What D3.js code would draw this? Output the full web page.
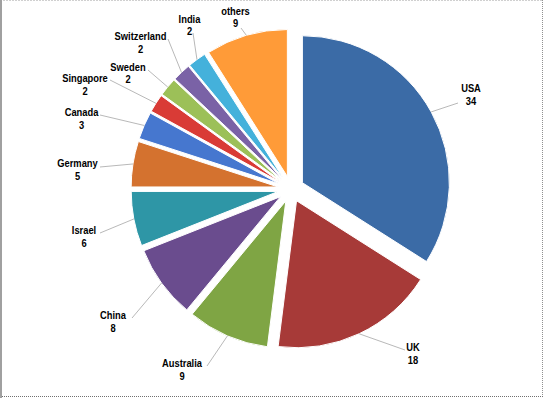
<!DOCTYPE html>
<html>
<head>
<meta charset="utf-8">
<script src="https://cdn.jsdelivr.net/npm/d3@7"></script>
<style>
    body { margin: 0; background: #fff; }
    svg { display: block; }
    .label { font-family: "Liberation Sans", Arial, sans-serif; font-weight: bold; font-size: 11px; fill: #000; }
</style>
</head>
<body>
<svg id="drawing_region"></svg>
<script>
// data
const countries = ["USA", "UK", "Australia", "China", "Israel", "Germany", "Canada",
                   "Singapore", "Sweden", "Switzerland", "India", "others"];
const values = [34, 18, 9, 8, 6, 5, 3, 2, 2, 2, 2, 9];
const colors = ["#3b6ba6", "#a73a38", "#7fa544", "#6a4c8e", "#2e96a6", "#d4722f", "#4677cf",
                "#d93b36", "#9cc058", "#7a62a6", "#44b1db", "#ff9b38"];

// label layout: text centre x, first line centre y, leader end x, y
const labelLayout = [
    [471, 88, 458, 103],
    [413, 347, 405, 350],
    [182, 363, 207, 366],
    [113, 315, 132, 318],
    [84, 230, 100, 233],
    [77.5, 163, 100, 167],
    [81.5, 112, 100, 115],
    [85, 78, 110, 80],
    [128, 66.5, 148, 70],
    [140.5, 36, 168, 39],
    [189.5, 18.5, 193, 33],
    [235.5, 10.5, 241, 28]
];

const config = {
    width: 544,
    height: 398,
    cx: 291,
    cy: 189,
    radius: 147,
    explode: 13,
    textSquash: 0.85
};

const data = countries.map((c, i) => ({ name: c, value: values[i], color: colors[i], layout: labelLayout[i] }));

const svg = d3.select('#drawing_region')
    .attr('width', config.width)
    .attr('height', config.height);

// frame
svg.append('line').attr('x1', 0.5).attr('y1', 0.5).attr('x2', config.width - 1).attr('y2', 0.5)
    .attr('stroke', '#a0a0a0').attr('stroke-dasharray', '1,2');
svg.append('line').attr('x1', config.width - 1.5).attr('y1', 0).attr('x2', config.width - 1.5).attr('y2', config.height - 1)
    .attr('stroke', '#909090').attr('stroke-dasharray', '1,1');
svg.append('line').attr('x1', 0).attr('y1', config.height - 1.5).attr('x2', config.width).attr('y2', config.height - 1.5)
    .attr('stroke', '#707070').attr('stroke-dasharray', '1,1');
svg.append('line').attr('x1', 1).attr('y1', 0).attr('x2', 1).attr('y2', config.height)
    .attr('stroke', '#a0a0a0').attr('stroke-width', 2);

const pie = d3.pie().value(d => d.value).sort(null);
const arc = d3.arc().innerRadius(0).outerRadius(config.radius);
const arcs = pie(data);

const chart = svg.append('g')
    .attr('transform', `translate(${config.cx}, ${config.cy})`);

const offset = d => {
    const mid = (d.startAngle + d.endAngle) / 2;
    return [config.explode * Math.sin(mid), -config.explode * Math.cos(mid)];
};

chart.selectAll('path.slice')
    .data(arcs)
    .enter()
    .append('path')
    .attr('class', 'slice')
    .attr('d', arc)
    .attr('transform', d => `translate(${offset(d)[0]}, ${offset(d)[1]})`)
    .attr('fill', d => d.data.color)
    .attr('stroke', '#fff')
    .attr('stroke-width', 1);

// leader lines from the outer edge at the slice bisector to the label
chart.selectAll('line.leader')
    .data(arcs)
    .enter()
    .append('line')
    .attr('class', 'leader')
    .attr('x1', d => {
        const mid = (d.startAngle + d.endAngle) / 2;
        return offset(d)[0] + config.radius * Math.sin(mid);
    })
    .attr('y1', d => {
        const mid = (d.startAngle + d.endAngle) / 2;
        return offset(d)[1] - config.radius * Math.cos(mid);
    })
    .attr('x2', d => d.data.layout[2] - config.cx)
    .attr('y2', d => d.data.layout[3] - config.cy)
    .attr('stroke', '#999')
    .attr('stroke-width', 0.7);

// labels, squashed horizontally to imitate the narrow original font
const labels = svg.selectAll('g.label')
    .data(data)
    .enter()
    .append('g')
    .attr('transform', d => `translate(${d.layout[0]}, ${d.layout[1] + 4}) scale(${config.textSquash}, 1)`)
    .append('text')
    .attr('class', 'label')
    .attr('text-anchor', 'middle');

labels.append('tspan')
    .attr('x', 0)
    .text(d => d.name);

labels.append('tspan')
    .attr('x', 0)
    .attr('dy', 13)
    .text(d => d.value);
</script>
</body>
</html>
